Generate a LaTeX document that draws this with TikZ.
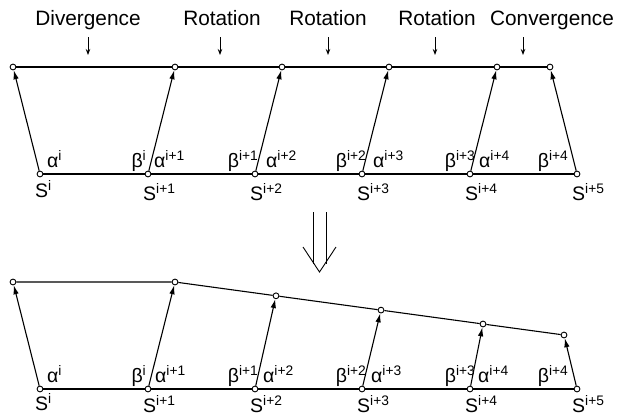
\documentclass[tikz,border=0pt]{standalone}
\usepackage{fontspec}
\setmainfont{Liberation Sans}
\usetikzlibrary{arrows.meta}
\newcommand\sps[2]{#1\raisebox{6.6pt}{\fontsize{13.8}{13.8}\selectfont #2}}
\begin{document}
\begin{tikzpicture}[x=1pt,y=-1pt,
  pt/.style={circle,draw,fill=white,inner sep=0pt,minimum size=5.8pt,line width=0.9pt},
  edge/.style={line width=1.1pt},
  vec/.style={line width=1.1pt,-{Latex[length=9pt,width=5.5pt]}},
  lab/.style={inner sep=0pt,font=\fontsize{19.5}{19.5}\selectfont},
  head/.style={inner sep=0pt,font=\fontsize{20.8}{20.8}\selectfont,anchor=base},
  tick/.style={line width=0.9pt,-{Stealth[length=6pt,width=4.5pt]}},
  big/.style={line width=0.9pt}]
\useasboundingbox (0,0) rectangle (617,416);

% ---------- headings ----------
\node[head] (h1) at (88,25.7) {Divergence};
\node[head] (h2) at (222,25.7) {Rotation};
\node[head] (h3) at (328,25.7) {Rotation};
\node[head] (h4) at (437,25.7) {Rotation};
\node[head] (h5) at (552,25.7) {Convergence};
\foreach \n/\x in {1/88,2/220,3/328,4/435,5/523}{
  \coordinate (ts\n) at (\x,37);
  \coordinate (te\n) at (\x,55);
  \draw[tick] (ts\n) -- (te\n);
}

% ---------- upper diagram ----------
\foreach \n/\x in {0/40,1/148,2/255,3/362,4/470,5/577}{
  \node[pt] (b\n) at (\x,174) {};
}
\node[pt] (t0) at (13,67) {};
\node[pt] (t1) at (175,67) {};
\node[pt] (t2) at (282,67) {};
\node[pt] (t3) at (389,67) {};
\node[pt] (t4) at (497,67) {};
\node[pt] (t5) at (550,67) {};
\draw[edge] (b0) -- (b1) -- (b2) -- (b3) -- (b4) -- (b5);
\draw[edge] (t0) -- (t1) -- (t2) -- (t3) -- (t4) -- (t5);
\foreach \n in {0,...,5}{ \draw[vec] (b\n) -- (t\n); }

\node[lab,anchor=base west] (ua0) at (47,167) {\sps{α}{i}};
\node[lab,anchor=base west] (ua1) at (154,167) {\sps{α}{i+1}};
\node[lab,anchor=base west] (ua2) at (266,167) {\sps{α}{i+2}};
\node[lab,anchor=base west] (ua3) at (373,167) {\sps{α}{i+3}};
\node[lab,anchor=base west] (ua4) at (479,167) {\sps{α}{i+4}};
\node[lab,anchor=base east] (ub0) at (146,167) {\sps{β}{i}};
\node[lab,anchor=base east] (ub1) at (258,167) {\sps{β}{i+1}};
\node[lab,anchor=base east] (ub2) at (366,167) {\sps{β}{i+2}};
\node[lab,anchor=base east] (ub3) at (475,167) {\sps{β}{i+3}};
\node[lab,anchor=base east] (ub4) at (568,167) {\sps{β}{i+4}};
\node[lab,anchor=base west] (us0) at (35,197) {\sps{S}{i}};
\node[lab,anchor=base west] (us1) at (143,200) {\sps{S}{i+1}};
\node[lab,anchor=base west] (us2) at (250,200) {\sps{S}{i+2}};
\node[lab,anchor=base west] (us3) at (357,200) {\sps{S}{i+3}};
\node[lab,anchor=base west] (us4) at (465,200) {\sps{S}{i+4}};
\node[lab,anchor=base west] (us5) at (572,200) {\sps{S}{i+5}};

% ---------- transition arrow ----------
\coordinate (da1) at (313,212);
\coordinate (da2) at (313,264);
\coordinate (db1) at (326,212);
\coordinate (db2) at (326,264);
\coordinate (dl) at (303,247);
\coordinate (dt) at (319.5,272);
\coordinate (dr) at (336,247);
\draw[big] (da1) -- (da2);
\draw[big] (db1) -- (db2);
\draw[big] (dl) -- (dt) -- (dr);

% ---------- lower diagram ----------
\foreach \n/\x in {0/40,1/148,2/255,3/362,4/470,5/577}{
  \node[pt] (c\n) at (\x,389) {};
}
\node[pt] (u0) at (13,282) {};
\node[pt] (u1) at (175,282) {};
\node[pt] (u2) at (276,295.8) {};
\node[pt] (u3) at (381,310.1) {};
\node[pt] (u4) at (483,324) {};
\node[pt] (u5) at (564,335) {};
\draw[edge] (c0) -- (c1) -- (c2) -- (c3) -- (c4) -- (c5);
\draw[edge] (u0) -- (u1) -- (u2) -- (u3) -- (u4) -- (u5);
\foreach \n in {0,...,5}{ \draw[vec] (c\n) -- (u\n); }

\node[lab,anchor=base west] (la0) at (47,382) {\sps{α}{i}};
\node[lab,anchor=base west] (la1) at (155,382) {\sps{α}{i+1}};
\node[lab,anchor=base west] (la2) at (263,382) {\sps{α}{i+2}};
\node[lab,anchor=base west] (la3) at (371,382) {\sps{α}{i+3}};
\node[lab,anchor=base west] (la4) at (478,382) {\sps{α}{i+4}};
\node[lab,anchor=base east] (lb0) at (146,382) {\sps{β}{i}};
\node[lab,anchor=base east] (lb1) at (258,382) {\sps{β}{i+1}};
\node[lab,anchor=base east] (lb2) at (366,382) {\sps{β}{i+2}};
\node[lab,anchor=base east] (lb3) at (475,382) {\sps{β}{i+3}};
\node[lab,anchor=base east] (lb4) at (568,382) {\sps{β}{i+4}};
\node[lab,anchor=base west] (ls0) at (35,410) {\sps{S}{i}};
\node[lab,anchor=base west] (ls1) at (143,412.5) {\sps{S}{i+1}};
\node[lab,anchor=base west] (ls2) at (250,412.5) {\sps{S}{i+2}};
\node[lab,anchor=base west] (ls3) at (357,412.5) {\sps{S}{i+3}};
\node[lab,anchor=base west] (ls4) at (465,412.5) {\sps{S}{i+4}};
\node[lab,anchor=base west] (ls5) at (572,412.5) {\sps{S}{i+5}};
\end{tikzpicture}
\end{document}
